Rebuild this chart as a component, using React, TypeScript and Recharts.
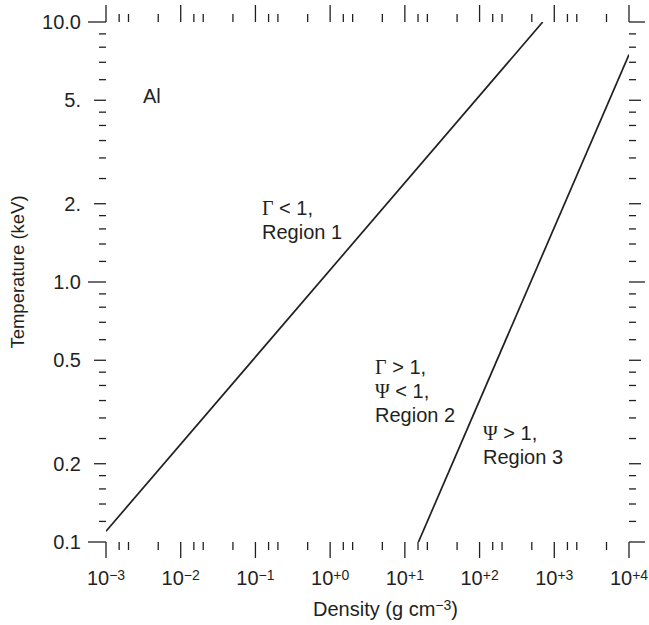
import React from 'react';
import { LineChart, Line, XAxis, YAxis, ReferenceDot } from 'recharts';

// boundary lines (density g/cm3, temperature keV)
const gammaBoundaryDensity = [0.001, 700];
const gammaBoundaryTemp = [0.11, 10];
const psiBoundaryDensity = [15.2, 10000];
const psiBoundaryTemp = [0.1, 7.5];

const densityMajorTicks = [0.001, 0.01, 0.1, 1, 10, 100, 1000, 10000];
const densityExponents = ['\u22123', '\u22122', '\u22121', '+0', '+1', '+2', '+3', '+4'];
const densityMinorTicks = [
  0.0015, 0.002, 0.005, 0.015, 0.02, 0.05, 0.15, 0.2, 0.5, 1.5, 2, 5,
  15, 20, 50, 150, 200, 500, 1500, 2000, 5000,
];

const tempMajorTicks = [0.1, 0.2, 0.5, 1, 2, 5, 10];
const tempMajorLabels = ['0.1', '0.2', '0.5', '1.0', '2.', '5.', '10.0'];
const tempDecadeTicks = [0.1, 1, 10];
const tempMinorTicks = [
  0.12, 0.14, 0.16, 0.18, 0.25, 0.3, 0.35, 0.4, 0.45, 0.6, 0.7, 0.8, 0.9,
  1.2, 1.4, 1.6, 1.8, 2.5, 3, 3.5, 4, 4.5, 6, 7, 8, 9,
];

// annotation anchors in data coordinates
const notes = [
  { x: 0.00313, y: 4.88, lines: [['', 'Al']] },
  { x: 0.1225, y: 1.81, lines: [['\u0393', ' < 1,'], ['', 'Region 1']] },
  { x: 3.99, y: 0.443, lines: [['\u0393', ' > 1,'], ['\u03A8', ' < 1,'], ['', 'Region 2']] },
  { x: 111, y: 0.247, lines: [['\u03A8', ' > 1,'], ['', 'Region 3']] },
];

const gammaData = gammaBoundaryDensity.map((d, i) => ({ x: d, y: gammaBoundaryTemp[i] }));
const psiData = psiBoundaryDensity.map((d, i) => ({ x: d, y: psiBoundaryTemp[i] }));

const xTicks = [...densityMajorTicks, ...densityMinorTicks].sort((a, b) => a - b);
const yTicks = [...tempMajorTicks, ...tempMinorTicks].sort((a, b) => a - b);

const INK = '#231f20';
const SANS = '"Liberation Sans", Arial, Helvetica, sans-serif';
const SERIF = '"Liberation Serif", "Times New Roman", serif';

const BottomTick = ({ x, y, payload }: any) => {
  const idx = densityMajorTicks.indexOf(payload.value);
  const major = idx >= 0;
  return (
    <g>
      <line x1={x} x2={x} y1={y} y2={y + (major ? 16 : 8)} stroke={INK} strokeWidth={1.3} />
      {major && (
        <text x={x} y={y + 43} textAnchor="middle" fontSize={20} fill={INK} fontFamily={SANS}>
          10<tspan dy={-5} fontSize={14}>{densityExponents[idx]}</tspan>
        </text>
      )}
    </g>
  );
};

const TopTick = ({ x, y, payload }: any) => {
  const major = densityMajorTicks.includes(payload.value);
  return <line x1={x} x2={x} y1={y} y2={y - (major ? 17 : 8)} stroke={INK} strokeWidth={1.3} />;
};

const LeftTick = ({ x, y, payload }: any) => {
  const idx = tempMajorTicks.indexOf(payload.value);
  const decade = tempDecadeTicks.includes(payload.value);
  const len = decade ? 18 : idx >= 0 ? 12 : 7;
  return (
    <g>
      <line x1={x} x2={x - len} y1={y} y2={y} stroke={INK} strokeWidth={1.3} />
      {idx >= 0 && (
        <text x={x - 25} y={y + 7} textAnchor="end" fontSize={20} fill={INK} fontFamily={SANS}>
          {tempMajorLabels[idx]}
        </text>
      )}
    </g>
  );
};

const RightTick = ({ x, y, payload }: any) => {
  const major = tempMajorTicks.includes(payload.value);
  const decade = tempDecadeTicks.includes(payload.value);
  const len = decade ? 16 : major ? 12 : 7;
  return <line x1={x} x2={x + len} y1={y} y2={y} stroke={INK} strokeWidth={1.3} />;
};

const NoteText = ({ cx, cy, lines }: any) => (
  <text x={cx} y={cy} fontSize={20} fill={INK} fontFamily={SANS}>
    {lines.map((ln: string[], i: number) => (
      <tspan key={i} x={cx} dy={i === 0 ? 0 : 24}>
        {ln[0] && <tspan fontFamily={SERIF} fontSize={20}>{ln[0]}</tspan>}
        {ln[1]}
      </tspan>
    ))}
  </text>
);

const xLabel = ({ viewBox }: any) => (
  <text
    x={viewBox.x + viewBox.width / 2 + 18}
    y={viewBox.y + 74}
    textAnchor="middle"
    fontSize={20}
    fill={INK}
    fontFamily={SANS}
  >
    Density (g cm<tspan dy={-6} fontSize={14}>{'\u22123'}</tspan>
    <tspan dy={6}>)</tspan>
  </text>
);

const yLabel = ({ viewBox }: any) => {
  const cx = viewBox.x - 22;
  const cy = viewBox.y + viewBox.height / 2 - 10;
  return (
    <text
      x={cx}
      y={cy}
      transform={`rotate(-90 ${cx} ${cy})`}
      textAnchor="middle"
      fontSize={18.5}
      fill={INK}
      fontFamily={SANS}
    >
      Temperature (keV)
    </text>
  );
};

export default function App() {
  return (
    <div style={{ position: 'absolute', left: 0, top: 0, fontFamily: SANS, background: '#fff' }}>
      <LineChart width={649} height={625} margin={{ top: 12, right: 10, bottom: 33, left: 46 }}>
        <XAxis
          dataKey="x"
          type="number"
          scale="log"
          domain={[0.001, 10000]}
          allowDataOverflow
          ticks={xTicks}
          interval={0}
          axisLine={false}
          tickLine={false}
          tickSize={0}
          tickMargin={0}
          height={50}
          tick={BottomTick}
          label={xLabel}
        />
        <XAxis
          xAxisId="top"
          orientation="top"
          dataKey="x"
          type="number"
          scale="log"
          domain={[0.001, 10000]}
          allowDataOverflow
          ticks={xTicks}
          interval={0}
          axisLine={false}
          tickLine={false}
          tickSize={0}
          tickMargin={0}
          height={10}
          tick={TopTick}
        />
        <YAxis
          type="number"
          scale="log"
          domain={[0.1, 10]}
          allowDataOverflow
          ticks={yTicks}
          interval={0}
          axisLine={false}
          tickLine={false}
          tickSize={0}
          tickMargin={0}
          width={60}
          tick={LeftTick}
          label={yLabel}
        />
        <YAxis
          yAxisId="right"
          orientation="right"
          type="number"
          scale="log"
          domain={[0.1, 10]}
          allowDataOverflow
          ticks={yTicks}
          interval={0}
          axisLine={false}
          tickLine={false}
          tickSize={0}
          tickMargin={0}
          width={10}
          tick={RightTick}
        />
        <Line
          data={gammaData}
          dataKey="y"
          type="linear"
          stroke={INK}
          strokeWidth={1.7}
          dot={false}
          activeDot={false}
          isAnimationActive={false}
        />
        <Line
          data={psiData}
          dataKey="y"
          type="linear"
          stroke={INK}
          strokeWidth={1.7}
          dot={false}
          activeDot={false}
          isAnimationActive={false}
        />
        {notes.map((n, i) => (
          <ReferenceDot
            key={i}
            x={n.x}
            y={n.y}
            r={0}
            shape={(p: any) => <NoteText cx={p.cx} cy={p.cy} lines={n.lines} />}
          />
        ))}
      </LineChart>
    </div>
  );
}
